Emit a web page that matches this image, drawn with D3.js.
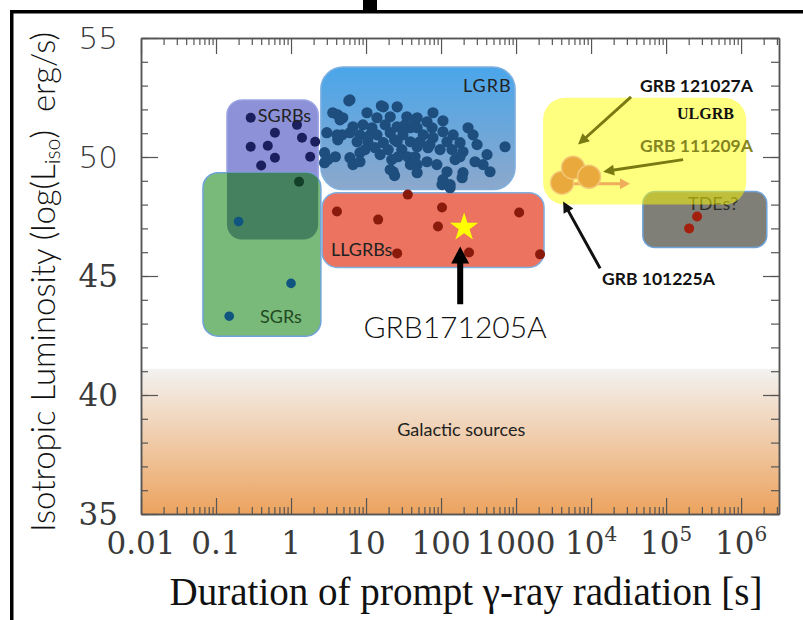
<!DOCTYPE html>
<html>
<head>
<meta charset="utf-8">
<script src="https://cdn.jsdelivr.net/npm/d3@7"></script>
<style>
  body { margin: 0; background: #fff; }
</style>
</head>
<body>
<div id="chart"></div>
<script>
/* GRB luminosity vs duration */

// ---- data: [duration (s), log L_iso (erg/s)] ----
var lgrb = [
  [5.9,52.36],[16,52.15],[26,52.11],[4.2,51.77],[4.9,51.65],[10.3,51.86],[14,51.65],[21,51.69],[35,51.69],[45,51.56],
  [6.7,51.27],[9.1,51.35],[12,51.23],[18,51.35],[26,51.27],[39,51.23],[3.0,51.02],[4.8,50.93],[6.1,51.02],[8.3,50.93],
  [14,50.93],[21,51.02],[31,50.93],[4.2,50.72],[7.6,50.64],[10.6,50.64],[17,50.60],[26,50.64],[39,50.64],[13.2,50.39],
  [19.7,50.31],[30,50.31],[2.8,50.18],[3.9,50.01],[6.1,49.97],[8.3,50.18],[15.4,50.10],[26.7,50.01],[36,50.01],[2.8,49.76],
  [6.7,49.68],[22,49.89],[39,49.68],[23,49.38],[24,49.22],[78,51.86],[106,51.52],[48,51.65],[65,51.48],[48,51.23],
  [76,51.23],[106,51.06],[145,50.93],[229,51.23],[267,50.93],[58,50.93],[78,50.81],[120,50.64],[179,50.60],[302,50.52],
  [713,50.43],[48,50.43],[67,50.39],[97,50.31],[140,50.31],[196,50.22],[410,50.10],[45,50.01],[65,49.80],[88,49.68],
  [179,50.01],[284,49.80],[363,49.68],[450,49.38],[48,49.34],[120,49.38],[196,49.34],[191,49.13],[106,49.05],[103,48.84],
  [132,48.84],[48,49.68],[3.6,51.86],[4.5,51.56],[4.1,50.93],[3.1,49.89],[8.3,49.80],[21,49.47],[17,52.11],[6.1,52.40],
  [11.3,50.93],[24,50.72],[52,50.64],[33,51.35],[71,50.52],[9.7,50.31],[154,49.89],[132,48.71]
];
var sgrb = [[0.29,51.65],[1.2,51.35],[0.61,51.02],[1.4,50.81],[2.1,50.64],[0.29,50.43],[0.49,50.47],[0.61,49.97],[1.8,50.01],[0.4,49.64]];
var sgrbLow = [[1.28,48.96]];
var sgr = [[0.20,47.29],[1.0,44.69],[0.15,43.31]];
var llgrb = [[4.1,47.71],[14.5,47.37],[36,48.42],[103,47.88],[91,47.08],[1100,47.67],[26,45.95],[236,45.99],[2090,45.91]];
var tde = [[259000,47.50],[203000,47.0]];
var ulgrb = [[4100,48.92],[5750,49.55],[9400,49.17]];
var grb171205a = [203, 47.04];

// populated regions: [name, dur from, dur to, logL from, logL to]
var regions = [
  ["Galactic", 0.01, 3.2e6, 35, 41.1],
  ["SGRB", 0.14, 2.3, 46.53, 52.40],
  ["SGR", 0.067, 2.5, 42.47, 49.34],
  ["LGRB", 2.5, 970, 48.63, 53.78],
  ["LLGRB", 2.6, 2360, 45.36, 48.50],
  ["TDE", 49000, 2.2e6, 46.2, 48.55],
  ["ULGRB", 2290, 1.17e6, 48.0, 52.49]
];

// labels: [text, dur, logL]
var regionLabels = [
  ["LGRB", 196, 52.74], ["SGRBs", 0.36, 51.48], ["SGRs", 0.386, 43.01],
  ["LLGRBs", 3.4, 45.82], ["TDEs?", 196000, 47.79], ["Galactic sources", 26, 38.28]
];
var annLabels = [
  ["GRB 121027A", 45000, 52.74], ["GRB 111209A", 45000, 50.22], ["GRB 101225A", 14000, 44.61]
];
// arrows: [dur tail, logL tail, dur tip, logL tip]
var annArrows = [
  [34100, 52.53, 6700, 50.52],
  [168600, 49.89, 14450, 49.38],
  [13200, 45.32, 4240, 48.13]
];
var limitArrow = [5750, 48.88, 33000, 48.88];
var grbArrow = [180, 43.81, 180, 46.24];

var xTicks = [0.01, 0.1, 1, 10, 100, 1000, 1e4, 1e5, 1e6];
var xTickLabels = ["0.01", "0.1", "1", "10", "100", "1000", "10^4", "10^5", "10^6"];
var yTicks = [35, 40, 45, 50, 55];

// ---- svg ----
var svg = d3.select("#chart")
  .append("svg")
    .attr("width", 803)
    .attr("height", 620);

svg.append("rect").attr("width", 803).attr("height", 620).attr("fill", "#fff");

var x = d3.scaleLog().domain([0.01, 3.2e6]).range([141, 779]);
var y = d3.scaleLinear().domain([35, 55]).range([514, 38]);

var defs = svg.append("defs");
function vgrad(id, c0, c1) {
  var g = defs.append("linearGradient").attr("id", id)
    .attr("x1", 0).attr("y1", 0).attr("x2", 0).attr("y2", 1);
  g.append("stop").attr("offset", "0%").attr("stop-color", c0);
  g.append("stop").attr("offset", "100%").attr("stop-color", c1);
}
vgrad("galGrad", "#f3f2f1", "#eca35e");
vgrad("lgrbGrad", "#4aa6ea", "#8ca8cc");

var style = {
  Galactic: {fill: "url(#galGrad)", rx: 0, stroke: "none"},
  SGRB:     {fill: "#8c91d8", rx: 15, stroke: "#9aa4e4"},
  SGR:      {fill: "#79b97a", rx: 15, stroke: "#6fa3d8"},
  LGRB:     {fill: "url(#lgrbGrad)", rx: 22, stroke: "#7fb0e0"},
  LLGRB:    {fill: "#ec735f", rx: 15, stroke: "#7faee0"},
  TDE:      {fill: "#7f7f78", rx: 12, stroke: "#6fa3d8"},
  ULGRB:    {fill: "#ffff00", rx: 22, stroke: "none", opacity: 0.5}
};

function box(r) {
  return {x: x(r[1]), y: y(r[4]), w: x(r[2]) - x(r[1]), h: y(r[3]) - y(r[4])};
}
var byName = {};
regions.forEach(function(r) { byName[r[0]] = r; });

function drawRegion(name) {
  var b = box(byName[name]), s = style[name];
  return svg.append("rect")
    .attr("x", b.x).attr("y", b.y).attr("width", b.w).attr("height", b.h)
    .attr("rx", s.rx).attr("fill", s.fill)
    .attr("fill-opacity", s.opacity || 1)
    .attr("stroke", s.stroke).attr("stroke-width", 1.5);
}

function dots(data, r, color) {
  svg.append("g").selectAll("circle")
    .data(data).enter().append("circle")
      .attr("cx", function(d) { return x(d[0]); })
      .attr("cy", function(d) { return y(d[1]); })
      .attr("r", r)
      .attr("fill", color);
}

function arrow(a, w, hl, hw, color) {
  var x1 = x(a[0]), y1 = y(a[1]), x2 = x(a[2]), y2 = y(a[3]);
  var dx = x2 - x1, dy = y2 - y1, L = Math.sqrt(dx * dx + dy * dy);
  var ux = dx / L, uy = dy / L, nx = -uy, ny = ux;
  var bx = x2 - ux * hl, by = y2 - uy * hl;
  var pts = [
    [x1 + nx * w / 2, y1 + ny * w / 2], [bx + nx * w / 2, by + ny * w / 2],
    [bx + nx * hw / 2, by + ny * hw / 2], [x2, y2],
    [bx - nx * hw / 2, by - ny * hw / 2], [bx - nx * w / 2, by - ny * w / 2],
    [x1 - nx * w / 2, y1 - ny * w / 2]
  ];
  svg.append("path").attr("d", d3.line()(pts) + "Z").attr("fill", color);
}

var sans = "Lato, 'Open Sans', sans-serif";
function label(t, fam, size, weight, color) {
  return svg.append("text")
    .attr("x", x(t[1])).attr("y", y(t[2]))
    .attr("font-family", fam).attr("font-size", size)
    .attr("font-weight", weight).attr("fill", color)
    .text(t[0]);
}

// background band
drawRegion("Galactic");

// regions
drawRegion("SGRB");
drawRegion("SGR");
// SGRB / SGR overlap
var sg = box(byName["SGR"]), sb = box(byName["SGRB"]);
defs.append("clipPath").attr("id", "sgrClip")
  .append("rect").attr("x", sg.x).attr("y", sg.y).attr("width", sg.w).attr("height", sg.h).attr("rx", 15);
svg.append("rect")
  .attr("x", sb.x).attr("y", sb.y).attr("width", sb.w).attr("height", sb.h).attr("rx", 15)
  .attr("fill", "#45815f").attr("clip-path", "url(#sgrClip)");
drawRegion("LGRB");
drawRegion("LLGRB");
drawRegion("TDE");

// points
dots(lgrb, 5.6, "#1e4e7e");
dots(sgrb, 5, "#1b1f5e");
dots(sgrbLow, 5, "#123f27");
dots(sgr, 4.8, "#0f5580");
dots(llgrb, 5, "#8a1a0c");
dots(tde, 5, "#a3200f");

// region labels
regionLabels.forEach(function(t) {
  var c = "#222";
  if (t[0] == "SGRs") c = "#1f4a22";
  if (t[0] == "TDEs?") c = "#2e2e28";
  var s = label(t, sans, 18, 400, c);
  if (t[0] == "LGRB") s.attr("letter-spacing", 1);
});

drawRegion("ULGRB");
label(["ULGRB", 140000, 51.6], "'Liberation Serif', serif", 16, 700, "#111");

// ULGRB points and lower-limit arrow
arrow(limitArrow, 3, 10, 11, "#f0ad5c");
svg.append("g").selectAll("circle")
  .data(ulgrb).enter().append("circle")
    .attr("cx", function(d) { return x(d[0]); })
    .attr("cy", function(d) { return y(d[1]); })
    .attr("r", 11.5)
    .attr("fill", "#e9a93c")
    .attr("stroke", "#f2c878").attr("stroke-width", 1.5);

// annotations
var annColors = ["#7a7a12", "#7a7a12", "#111"];
annArrows.forEach(function(a, i) { arrow(a, 3, 11, 11, annColors[i]); });
annLabels.forEach(function(t, i) {
  label(t, sans, 17.5, 700, i == 1 ? "#85851f" : "#111");
});

// GRB171205A
svg.append("path")
  .attr("d", d3.symbol().type(d3.symbolStar).size(250))
  .attr("transform", "translate(" + x(grb171205a[0]) + "," + y(grb171205a[1]) + ")")
  .attr("fill", "#ffff00");
arrow(grbArrow, 6, 17, 18, "#000");
label(["GRB171205A", 154, 42.38], sans, 30, 300, "#111").attr("text-anchor", "middle");

// axes
function ax(gen, tx, ty, vals, size) {
  var g = svg.append("g")
    .attr("transform", "translate(" + tx + "," + ty + ")")
    .call(gen.tickValues(vals).tickSize(size).tickSizeOuter(0).tickFormat(""));
  g.select(".domain").attr("stroke", "#555").attr("stroke-width", 1.5);
  g.selectAll(".tick line").attr("stroke", "#555").attr("stroke-width", 1.2);
  return g;
}
var yMinor = d3.range(35, 56, 1);
var xMinor = [];
for (var e = -2; e <= 6; e++) for (var m = 2; m <= 9; m++) if (m * Math.pow(10, e) < 3.2e6) xMinor.push(m * Math.pow(10, e));

ax(d3.axisRight(y), 141, 0, yMinor, 7);
ax(d3.axisRight(y), 141, 0, yTicks, 17);
ax(d3.axisLeft(y), 779, 0, yMinor, 8);
ax(d3.axisLeft(y), 779, 0, yTicks, 16);
ax(d3.axisBottom(x), 0, 38, xMinor, 7);
ax(d3.axisBottom(x), 0, 38, xTicks, 16);
ax(d3.axisTop(x), 0, 514, xMinor, 7);
ax(d3.axisTop(x), 0, 514, xTicks, 16);

// tick labels
xTicks.forEach(function(v, i) {
  var parts = xTickLabels[i].split("^");
  var t = svg.append("text")
    .attr("x", x(v)).attr("y", 554)
    .attr("text-anchor", "middle")
    .attr("font-family", "'DejaVu Serif', serif")
    .attr("font-size", 31).attr("font-weight", 200)
    .attr("fill", "#3a3a3a")
    .text(parts[0]);
  if (parts[1]) t.append("tspan").attr("dy", -13).attr("font-size", 20).text(parts[1]);
});
yTicks.forEach(function(v) {
  svg.append("text")
    .attr("x", 118).attr("y", y(v))
    .attr("dy", "0.36em")
    .attr("text-anchor", "end")
    .attr("font-family", v >= 50 ? "'DejaVu Sans', sans-serif" : "'DejaVu Serif', serif")
    .attr("font-size", 31).attr("font-weight", 200)
    .attr("fill", "#3a3a3a")
    .text(v);
});

// axis titles
var xt = svg.append("text")
  .attr("x", 466).attr("y", 605)
  .attr("text-anchor", "middle")
  .attr("font-family", "'Liberation Serif', 'Times New Roman', serif")
  .attr("font-size", 36).attr("fill", "#111")
  .text("Duration of prompt \u03b3-ray radiation [s]");
xt.attr("font-size", 36 * 593 / xt.node().getComputedTextLength());

var yt = svg.append("text")
  .attr("transform", "translate(55,282) rotate(-90)")
  .attr("text-anchor", "middle")
  .attr("font-family", sans)
  .attr("font-size", 26).attr("font-weight", 300).attr("fill", "#111");
yt.append("tspan").text("Isotropic Luminosity (log(L");
yt.append("tspan").attr("font-size", "65%").attr("dy", 5).text("iso");
yt.append("tspan").attr("dy", -5).attr("xml:space", "preserve").text(")\u00a0\u00a0erg/s)");
yt.attr("font-size", 26 * 500 / yt.node().getComputedTextLength());

// outer frame
svg.append("rect").attr("x", 10).attr("y", 10).attr("width", 793).attr("height", 3.5).attr("fill", "#000");
svg.append("rect").attr("x", 10).attr("y", 10).attr("width", 3.5).attr("height", 610).attr("fill", "#000");
svg.append("rect").attr("x", 363).attr("y", 0).attr("width", 14).attr("height", 12).attr("fill", "#000");
</script>
</body>
</html>
